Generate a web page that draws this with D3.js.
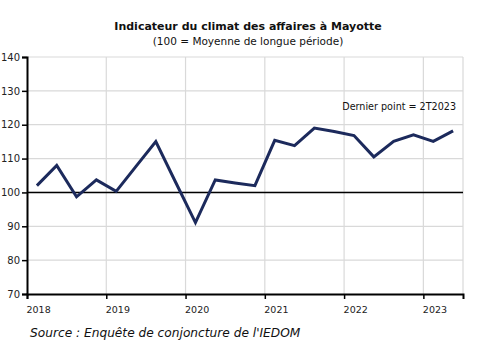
<!DOCTYPE html>
<html><head><meta charset="utf-8">
<script src="https://cdn.jsdelivr.net/npm/d3@7"></script>
<style>body{margin:0;background:#fff;} svg{display:block;}</style>
</head><body>
<svg id="c" width="485" height="360"></svg>
<script>
const quarters = ["T1 2018","T2 2018","T3 2018","T4 2018","T1 2019","T2 2019","T3 2019","T4 2019","T1 2020","T2 2020","T3 2020","T4 2020","T1 2021","T2 2021","T3 2021","T4 2021","T1 2022","T2 2022","T3 2022","T4 2022","T1 2023","T2 2023"];
const quarterPos = [2018.125,2018.375,2018.625,2018.875,2019.125,2019.375,2019.625,2019.875,2020.125,2020.375,2020.625,2020.875,2021.125,2021.375,2021.625,2021.875,2022.125,2022.375,2022.625,2022.875,2023.125,2023.375];
const values = [102.0,108.0,98.7,103.7,100.3,107.7,115.0,103.0,91.1,103.7,102.8,102.0,115.4,113.8,119.0,118.0,116.8,110.5,115.1,117.0,115.1,118.2];
const yearTicks = [2018,2019,2020,2021,2022,2023];
const yTicks = [70,80,90,100,110,120,130,140];
const title = "Indicateur du climat des affaires à Mayotte";
const subtitle = "(100 = Moyenne de longue période)";
const annotation = "Dernier point = 2T2023";
const source = "Source : Enquête de conjoncture de l'IEDOM";

const svg = d3.select("#c");
const m = {left:27, right:463, top:57, bottom:294};
const x = d3.scaleLinear().domain([2018, 2023.5]).range([m.left, m.right]);
const y = d3.scaleLinear().domain([70, 140]).range([m.bottom, m.top]);
const font = "DejaVu Sans, Verdana, sans-serif";

// grid
const g = svg.append("g");
g.selectAll(".hg").data(yTicks.filter(d=>d!==70)).enter().append("line")
  .attr("x1", m.left).attr("x2", m.right)
  .attr("y1", d=>y(d)).attr("y2", d=>y(d))
  .attr("stroke", "#d9d9d9").attr("stroke-width", 1.2);
g.selectAll(".vg").data(yearTicks.filter(d=>d!==2018)).enter().append("line")
  .attr("x1", d=>x(d)).attr("x2", d=>x(d))
  .attr("y1", m.top).attr("y2", m.bottom)
  .attr("stroke", "#d9d9d9").attr("stroke-width", 1.2);
g.append("line").attr("x1", m.right).attr("x2", m.right).attr("y1", m.top).attr("y2", m.bottom)
  .attr("stroke", "#d9d9d9").attr("stroke-width", 1.2);

// reference line at 100
svg.append("line").attr("x1", m.left).attr("x2", m.right)
  .attr("y1", y(100)).attr("y2", y(100))
  .attr("stroke", "#000").attr("stroke-width", 1.5);

// axes
const yAxis = d3.axisLeft(y).tickValues(yTicks).tickSize(5).tickPadding(2);
const ya = svg.append("g").attr("transform", `translate(${m.left},0)`).call(yAxis);
ya.select(".domain").attr("stroke", "#000").attr("stroke-width", 2);
ya.selectAll(".tick line").attr("stroke", "#000").attr("stroke-width", 1.5);
ya.selectAll("text").attr("font-family", font).attr("font-size", 10).attr("fill", "#222");

const xAxis = d3.axisBottom(x).tickValues(yearTicks).tickFormat(d3.format("d")).tickSize(5).tickPadding(7);
const xa = svg.append("g").attr("transform", `translate(0,${m.bottom})`).call(xAxis);
xa.select(".domain").attr("stroke", "#000").attr("stroke-width", 2);
xa.selectAll(".tick line").attr("stroke", "#000").attr("stroke-width", 1.5);
xa.selectAll("text").attr("font-family", font).attr("font-size", 9.5).attr("fill", "#222")
  .attr("text-anchor", "start").attr("dx", -1);

// line
const line = d3.line().x((d,i)=>x(quarterPos[i])).y(d=>y(d));
svg.append("path").datum(values).attr("d", line)
  .attr("fill", "none").attr("stroke", "#1c2a5c").attr("stroke-width", 3)
  .attr("stroke-linejoin", "miter");

// texts
svg.append("text").attr("x", 248).attr("y", 30).attr("text-anchor", "middle")
  .attr("font-family", font).attr("font-weight", "bold").attr("font-size", 11).attr("fill", "#111")
  .text(title);
svg.append("text").attr("x", 248).attr("y", 45).attr("text-anchor", "middle")
  .attr("font-family", font).attr("font-size", 10.5).attr("fill", "#111")
  .text(subtitle);
svg.append("text").attr("x", 456).attr("y", 110).attr("text-anchor", "end")
  .attr("font-family", font).attr("font-size", 9.6).attr("fill", "#111")
  .text(annotation);
svg.append("text").attr("x", 30).attr("y", 337)
  .attr("font-family", font).attr("font-style", "italic").attr("font-size", 12.2).attr("fill", "#111")
  .text(source);
</script>
</body></html>
